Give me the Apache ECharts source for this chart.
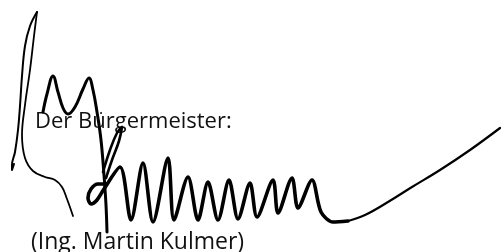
<!DOCTYPE html>
<html>
<head>
<meta charset="utf-8">
<script src="https://cdn.jsdelivr.net/npm/echarts@6/dist/echarts.min.js"></script>
<style>
  html, body { margin: 0; padding: 0; background: #fff; }
  #chart { width: 501px; height: 252px; }
</style>
</head>
<body>
<div id="chart"></div>
<script>
// Unterschrift, als Linienzüge (x, y in Pixel des Scans)
const outerLoop = [[37, 12], [30, 26], [25, 46], [22, 76], [20, 106], [18, 130], [15, 152], [12, 165], [12, 170], [14, 164]]
const innerLoop = [[37, 12], [34, 36], [30, 70], [25, 105], [22, 135], [25, 158], [33, 171], [45, 177], [55, 180], [62, 187], [67, 199], [73, 216]]
const mStroke = [[43, 112], [47, 94], [53, 76], [58, 92], [63, 108], [68, 114], [75, 107], [83, 89], [89, 78], [93, 90], [97, 112], [101, 140], [104, 175], [106, 205], [107, 232]]
const smallLoop = [[103, 172], [110, 150], [117, 133], [122, 127], [119, 141], [112, 160], [106, 178]]
const mainStroke = [
  [106, 184], [98, 184], [91, 189], [88, 198], [91, 204], [97, 200], [104, 189],
  [120, 167], [131, 220], [143, 163], [153, 222], [168, 158], [174, 220],
  [188, 177], [198, 220], [208, 182], [218, 220], [229, 180], [238, 219],
  [250, 183], [257, 217], [273, 180], [278, 213], [292, 178], [298, 208],
  [312, 180], [321, 212], [333, 222], [348, 221]
]
const tailStroke = [[348, 221], [365, 215], [388, 202], [412, 187], [440, 170], [470, 150], [500, 128]]
const textLines = ['Der Bürgermeister:', '(Ing. Martin Kulmer)']

const myChart = echarts.init(document.getElementById('chart'))

function stroke(data, width, smooth) {
  return {
    type: 'line',
    data: data,
    smooth: smooth,
    symbol: 'none',
    silent: true,
    lineStyle: { color: '#000', width: width, cap: 'round', join: 'round' },
  }
}

myChart.setOption({
  animation: false,
  grid: { left: 0, right: 0, top: 0, bottom: 0 },
  xAxis: { type: 'value', min: 0, max: 501, show: false },
  yAxis: { type: 'value', min: 0, max: 252, inverse: true, show: false },
  graphic: [
    {
      type: 'text',
      left: 35,
      top: 111,
      style: { text: textLines[0], font: '22px "Open Sans"', fill: '#111' },
    },
    {
      type: 'text',
      left: 31,
      top: 231,
      style: { text: textLines[1], font: '23px "Open Sans"', fill: '#111' },
    },
  ],
  series: [
    stroke(outerLoop, 2, 0.4),
    stroke(innerLoop, 1.8, 0.4),
    stroke(mStroke, 3, 0.4),
    stroke(smallLoop, 2.6, 0.4),
    stroke(mainStroke, 3.6, 0.3),
    stroke(tailStroke, 2.2, 0.4),
  ],
})
</script>
</body>
</html>
